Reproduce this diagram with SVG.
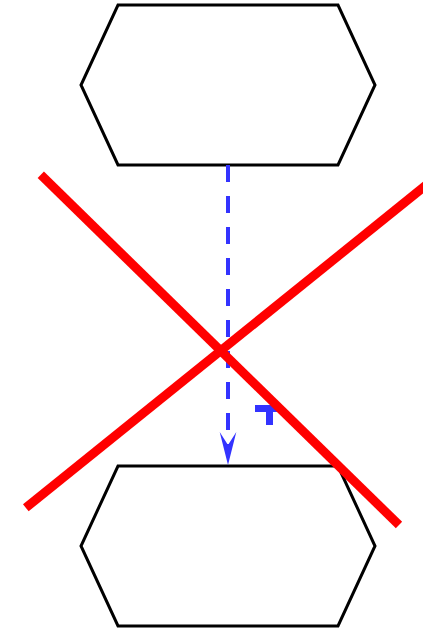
<svg xmlns="http://www.w3.org/2000/svg" width="431" height="630" viewBox="0 0 431 630">
<style>
.node{fill:#ffffff;stroke:#000000;stroke-width:3;stroke-linejoin:miter}
.edge{fill:none;stroke:#3333ff;stroke-width:4;stroke-dasharray:17 14}
.cross{stroke:#ff0000;stroke-width:9;stroke-linecap:butt}
</style>
<defs>
<clipPath id="clipR"><rect x="0" y="0" width="423" height="630"/></clipPath>
</defs>
<rect x="0" y="0" width="431" height="630" fill="#ffffff"/>
<g id="node-top">
<polygon class="node" points="118,5 338,5 375,85 338,165 118,165 81,85"/>
</g>
<g id="node-bottom">
<polygon class="node" points="118,466 338,466 375,546 338,626 118,626 81,546"/>
</g>
<g id="connectors">
<line class="edge" x1="228" y1="165" x2="228" y2="446"/>
<path d="M228,465 L219.7,432 L228,445 L236.3,432 Z" fill="#3333ff"/>
<path d="M255,405 L282,405 L282,412 L273,412 L273,425 L266,425 L266,412 L255,412 Z" fill="#3333ff"/>
</g>
<g id="cross">
<line class="cross" x1="40.8" y1="174.8" x2="399" y2="525"/>
<line class="cross" x1="25.8" y1="507.8" x2="430" y2="182" clip-path="url(#clipR)"/>
</g>
</svg>
